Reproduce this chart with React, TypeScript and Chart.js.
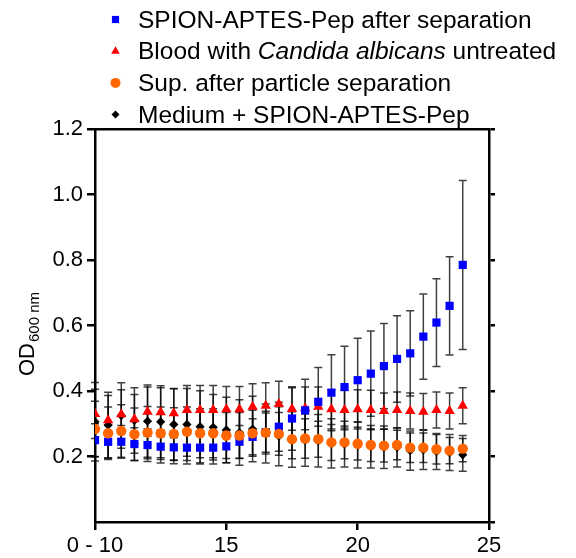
import { useEffect, useRef } from 'react';
import { Chart, registerables } from 'chart.js';

Chart.register(...registerables);

const FONT = '"Liberation Sans", Arial, Helvetica, sans-serif';

// Incubation time (h); the first reading covers 0 - 10 h
const hours = [10, 10.5, 11, 11.5, 12, 12.5, 13, 13.5, 14, 14.5, 15, 15.5, 16, 16.5, 17, 17.5, 18, 18.5, 19, 19.5, 20, 20.5, 21, 21.5, 22, 22.5, 23, 23.5, 24];

// SPION-APTES-Pep after separation
const spionMean = [0.250, 0.245, 0.245, 0.238, 0.235, 0.230, 0.228, 0.227, 0.227, 0.227, 0.231, 0.245, 0.260, 0.273, 0.291, 0.316, 0.341, 0.367, 0.395, 0.412, 0.433, 0.453, 0.476, 0.498, 0.515, 0.566, 0.609, 0.660, 0.785];
const spionSd = [0.050, 0.050, 0.050, 0.050, 0.050, 0.050, 0.050, 0.050, 0.050, 0.050, 0.050, 0.050, 0.055, 0.060, 0.075, 0.097, 0.095, 0.105, 0.116, 0.125, 0.128, 0.130, 0.130, 0.132, 0.130, 0.130, 0.134, 0.150, 0.258];

// Blood with Candida albicans, untreated
const bloodMean = [0.330, 0.311, 0.329, 0.314, 0.337, 0.335, 0.332, 0.342, 0.342, 0.342, 0.344, 0.344, 0.352, 0.355, 0.360, 0.345, 0.347, 0.352, 0.344, 0.342, 0.344, 0.342, 0.339, 0.342, 0.339, 0.337, 0.342, 0.339, 0.355];
const bloodSd = [0.075, 0.075, 0.075, 0.075, 0.075, 0.075, 0.075, 0.075, 0.075, 0.075, 0.070, 0.070, 0.070, 0.070, 0.070, 0.065, 0.065, 0.060, 0.060, 0.060, 0.060, 0.060, 0.055, 0.055, 0.055, 0.055, 0.055, 0.055, 0.055];

// Supernatant after particle separation
const supMean = [0.284, 0.271, 0.278, 0.268, 0.273, 0.271, 0.269, 0.276, 0.271, 0.271, 0.264, 0.264, 0.271, 0.273, 0.269, 0.253, 0.255, 0.253, 0.243, 0.243, 0.239, 0.235, 0.233, 0.235, 0.227, 0.227, 0.222, 0.218, 0.224];
const supSd = [0.085, 0.080, 0.080, 0.080, 0.080, 0.080, 0.080, 0.075, 0.075, 0.075, 0.070, 0.070, 0.070, 0.065, 0.065, 0.060, 0.060, 0.055, 0.055, 0.050, 0.050, 0.050, 0.050, 0.045, 0.045, 0.045, 0.045, 0.040, 0.040];

// Medium + SPION-APTES-Pep
const mediumMean = [0.306, 0.296, 0.325, 0.310, 0.308, 0.306, 0.298, 0.298, 0.291, 0.289, 0.281, 0.273, 0.284, 0.270, 0.262, 0.252, 0.250, 0.248, 0.240, 0.238, 0.235, 0.230, 0.228, 0.228, 0.218, 0.220, 0.215, 0.212, 0.205];
const mediumSd = [0.120, 0.100, 0.100, 0.100, 0.110, 0.110, 0.110, 0.110, 0.110, 0.100, 0.100, 0.100, 0.100, 0.090, 0.090, 0.085, 0.080, 0.080, 0.075, 0.070, 0.070, 0.065, 0.065, 0.060, 0.060, 0.060, 0.055, 0.055, 0.050];

const yTicks = [0.2, 0.4, 0.6, 0.8, 1.0, 1.2];

const BLUE = '#0000FF';
const RED = '#FF0000';
const ORANGE = '#FF6600';
const BLACK = '#000000';

const toPoints = (ys: number[]) => hours.map((h, i) => ({ x: h, y: ys[i] }));

// Vertical SD whiskers with caps, drawn underneath the markers
const errorBarPlugin = {
  id: 'errorBars',
  beforeDatasetsDraw(chart: any) {
    const sds: number[][] = chart.options.plugins.errorBars.sd;
    const { ctx } = chart;
    const xs = chart.scales.x;
    const ys = chart.scales.y;
    ctx.save();
    ctx.strokeStyle = 'rgba(0,0,0,0.75)';
    ctx.lineWidth = 1.5;
    chart.data.datasets.forEach((ds: any, d: number) => {
      ds.data.forEach((p: any, i: number) => {
        const px = xs.getPixelForValue(p.x);
        const top = ys.getPixelForValue(p.y + sds[d][i]);
        const bot = ys.getPixelForValue(p.y - sds[d][i]);
        ctx.beginPath();
        ctx.moveTo(px, top);
        ctx.lineTo(px, bot);
        ctx.moveTo(px - 4, top);
        ctx.lineTo(px + 4, top);
        ctx.moveTo(px - 4, bot);
        ctx.lineTo(px + 4, bot);
        ctx.stroke();
      });
    });
    ctx.restore();
  },
};

type Seg = { text: string; italic?: boolean };
type LegendRow = { shape: string; color: string; size: number; segs: Seg[] };

const legendRows: LegendRow[] = [
  { shape: 'square', color: BLUE, size: 3.6, segs: [{ text: 'SPION-APTES-Pep after separation' }] },
  { shape: 'triangle', color: RED, size: 5, segs: [{ text: 'Blood with ' }, { text: 'Candida albicans', italic: true }, { text: ' untreated' }] },
  { shape: 'circle', color: ORANGE, size: 5, segs: [{ text: 'Sup. after particle separation' }] },
  { shape: 'diamond', color: BLACK, size: 4, segs: [{ text: 'Medium + SPION-APTES-Pep' }] },
];

function drawMarker(ctx: CanvasRenderingContext2D, shape: string, x: number, y: number, r: number) {
  ctx.beginPath();
  if (shape === 'square') {
    ctx.rect(x - r, y - r, 2 * r, 2 * r);
  } else if (shape === 'triangle') {
    ctx.moveTo(x, y - r);
    ctx.lineTo(x + r * 0.866, y + r * 0.5);
    ctx.lineTo(x - r * 0.866, y + r * 0.5);
    ctx.closePath();
  } else if (shape === 'circle') {
    ctx.arc(x, y, r, 0, Math.PI * 2);
  } else {
    ctx.moveTo(x, y - r);
    ctx.lineTo(x + r, y);
    ctx.lineTo(x, y + r);
    ctx.lineTo(x - r, y);
    ctx.closePath();
  }
  ctx.fill();
}

// Legend with mixed roman / italic text and the rotated y-axis title with subscript
const annotationPlugin = {
  id: 'annotations',
  afterDraw(chart: any) {
    const { ctx } = chart;
    ctx.save();
    ctx.textBaseline = 'alphabetic';
    ctx.textAlign = 'left';
    legendRows.forEach((row, i) => {
      const baseline = 27.5 + i * 31.7;
      ctx.fillStyle = row.color;
      drawMarker(ctx, row.shape, 115.5, baseline - 8, row.size);
      let x = 138;
      ctx.fillStyle = '#000';
      row.segs.forEach((s) => {
        ctx.font = `${s.italic ? 'italic ' : ''}24.5px ${FONT}`;
        ctx.fillText(s.text, x, baseline);
        x += ctx.measureText(s.text).width;
      });
    });
    ctx.restore();

    ctx.save();
    ctx.translate(26, 334);
    ctx.rotate(-Math.PI / 2);
    ctx.fillStyle = '#000';
    ctx.textBaseline = 'alphabetic';
    ctx.font = `22px ${FONT}`;
    const w1 = ctx.measureText('OD').width;
    ctx.font = `15px ${FONT}`;
    const w2 = ctx.measureText('600 nm').width;
    const start = -(w1 + w2 + 1) / 2;
    ctx.font = `22px ${FONT}`;
    ctx.fillText('OD', start, 8);
    ctx.font = `15px ${FONT}`;
    ctx.fillText('600 nm', start + w1 + 1, 13);
    ctx.restore();
  },
};

export default function App() {
  const canvasRef = useRef<HTMLCanvasElement | null>(null);

  useEffect(() => {
    if (!canvasRef.current) return;
    const axisLine = { color: '#000', width: 2.5 };
    const chart = new Chart(canvasRef.current, {
      type: 'scatter',
      data: {
        datasets: [
          {
            label: 'Sup. after particle separation',
            data: toPoints(supMean),
            pointStyle: 'circle',
            pointRadius: 5.2,
            backgroundColor: ORANGE,
            borderColor: ORANGE,
            pointBorderWidth: 0,
            order: 0,
          },
          {
            label: 'SPION-APTES-Pep after separation',
            data: toPoints(spionMean),
            pointStyle: 'rect',
            pointRadius: 5.8,
            backgroundColor: BLUE,
            borderColor: BLUE,
            pointBorderWidth: 0,
            order: 1,
          },
          {
            label: 'Blood with Candida albicans untreated',
            data: toPoints(bloodMean),
            pointStyle: 'triangle',
            pointRadius: 6,
            backgroundColor: RED,
            borderColor: RED,
            pointBorderWidth: 0,
            order: 2,
          },
          {
            label: 'Medium + SPION-APTES-Pep',
            data: toPoints(mediumMean),
            pointStyle: 'rectRot',
            pointRadius: 4.6,
            backgroundColor: BLACK,
            borderColor: BLACK,
            pointBorderWidth: 0,
            order: 3,
          },
        ],
      },
      options: {
        animation: false,
        responsive: false,
        devicePixelRatio: 1,
        layout: { padding: { top: 129, left: 0, right: 0, bottom: 0 } },
        plugins: {
          legend: { display: false },
          tooltip: { enabled: false },
          errorBars: { sd: [supSd, spionSd, bloodSd, mediumSd] },
        } as any,
        scales: {
          x: {
            type: 'linear',
            position: 'bottom',
            min: 10,
            max: 25,
            afterFit: (s: any) => { s.height = 36; },
            ticks: {
              stepSize: 5,
              autoSkip: false,
              maxRotation: 0,
              padding: 3,
              color: '#000',
              font: { family: FONT, size: 22 },
              callback: (v: any) => (v === 10 ? '0 - 10' : String(v)),
            },
            grid: { drawOnChartArea: false, drawTicks: true, tickLength: 8, color: '#000', lineWidth: 2.5 },
            border: axisLine,
          },
          x2: {
            type: 'linear',
            position: 'top',
            min: 10,
            max: 25,
            afterFit: (s: any) => { s.height = 0; },
            ticks: { display: false },
            grid: { display: false },
            border: axisLine,
          },
          y: {
            type: 'linear',
            position: 'left',
            min: 0,
            max: 1.2,
            afterFit: (s: any) => { s.width = 95; },
            afterBuildTicks: (s: any) => { s.ticks = [0, ...yTicks].map((v) => ({ value: v })); },
            ticks: {
              padding: 4,
              color: '#000',
              font: { family: FONT, size: 22 },
              callback: (v: any) => (v === 0 ? '' : Number(v).toFixed(1)),
            },
            grid: {
              drawOnChartArea: false,
              drawTicks: true,
              tickLength: 8,
              lineWidth: 2.5,
              color: (c: any) => (c.tick && c.tick.value === 0 ? 'rgba(0,0,0,0)' : '#000'),
            },
            border: axisLine,
          },
          y2: {
            type: 'linear',
            position: 'right',
            min: 0,
            max: 1.2,
            afterFit: (s: any) => { s.width = 87; },
            afterBuildTicks: (s: any) => { s.ticks = [0, ...yTicks].map((v) => ({ value: v })); },
            ticks: { display: false },
            grid: { drawOnChartArea: false, drawTicks: true, tickLength: 6, lineWidth: 2.5, color: '#000' },
            border: axisLine,
          },
        },
      } as any,
      plugins: [errorBarPlugin, annotationPlugin],
    });
    return () => chart.destroy();
  }, []);

  return (
    <div style={{ position: 'absolute', left: 0, top: 0, width: 576, height: 558, background: '#fff' }}>
      <canvas ref={canvasRef} width={576} height={558} />
    </div>
  );
}
